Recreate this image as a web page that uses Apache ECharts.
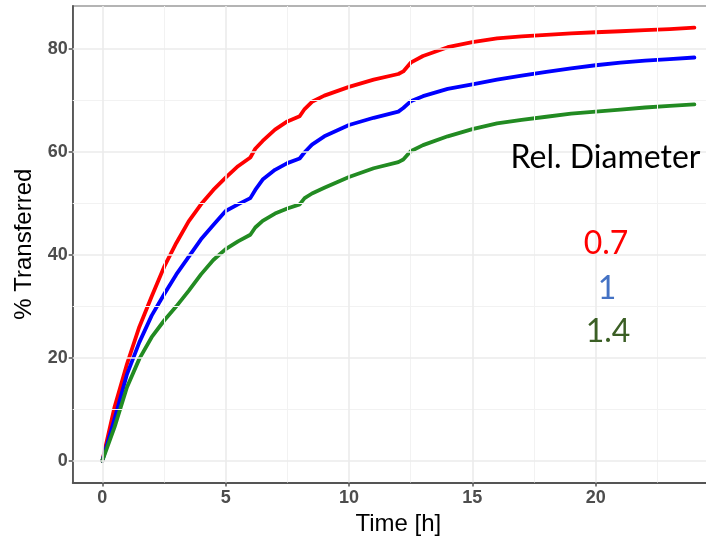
<!DOCTYPE html>
<html>
<head>
<meta charset="utf-8">
<script src="https://cdn.jsdelivr.net/npm/echarts@6/dist/echarts.min.js"></script>
<style>
  html, body { margin: 0; padding: 0; background: #ffffff; }
  #chart { width: 706px; height: 538px; }
</style>
</head>
<body>
<div id="chart"></div>
<script>
// Release time points [h]
const hours = [0, 0.5, 1, 1.5, 2, 2.5, 3, 3.5, 4, 4.5, 5, 5.5, 6, 6.2, 6.5, 7, 7.5, 8, 8.2, 8.5, 9, 10, 11, 12, 12.2, 12.5, 13, 14, 15, 16, 17, 18, 19, 20, 21, 22, 23, 24];

// % transferred for each relative diameter
const diam07 = [0, 10.5, 18.8, 26.0, 31.9, 37.6, 42.3, 46.5, 49.8, 52.6, 55.0, 57.2, 58.9, 60.6, 62.1, 64.3, 65.9, 66.9, 68.3, 69.7, 70.9, 72.6, 74.0, 75.1, 75.6, 77.3, 78.6, 80.3, 81.3, 82.0, 82.4, 82.7, 83.0, 83.2, 83.4, 83.6, 83.8, 84.1];
const diam10 = [0, 8.2, 16.8, 23.0, 28.2, 32.3, 36.2, 39.6, 43.0, 45.8, 48.5, 49.8, 51.0, 52.6, 54.6, 56.5, 57.8, 58.7, 59.9, 61.4, 63.0, 65.2, 66.6, 67.8, 68.5, 69.8, 70.8, 72.2, 73.1, 74.0, 74.8, 75.5, 76.2, 76.8, 77.3, 77.7, 78.0, 78.3];
const diam14 = [0, 6.6, 14.3, 19.8, 24.0, 27.2, 30.0, 33.0, 36.2, 39.0, 41.1, 42.6, 43.9, 45.3, 46.6, 48.0, 49.0, 49.8, 51.0, 51.9, 53.0, 55.1, 56.8, 58.0, 58.5, 60.1, 61.3, 63.0, 64.4, 65.5, 66.2, 66.8, 67.4, 67.8, 68.2, 68.6, 68.9, 69.2];

const seriesNames = ['0.7', '1', '1.4'];
const lineColors = ['#ff0000', '#0000ff', '#228b22'];
const legendColors = ['#ff0000', '#4472c4', '#3b5f25'];

// Axis ticks and grid positions
const xTicks = [0, 5, 10, 15, 20];
const xMinor = [2.5, 7.5, 12.5, 17.5, 22.5];
const yTicks = [0, 20, 40, 60, 80];
const yMinor = [10, 30, 50, 70];

const pairs = (vals) => hours.map((h, i) => [h, vals[i]]);

const majorStyle = { color: '#ebebeb', width: 1.6, type: 'solid' };
const minorStyle = { color: '#f2f2f2', width: 1, type: 'solid' };

const gridLines = []
  .concat(yMinor.map(v => ({ yAxis: v, lineStyle: minorStyle })))
  .concat(xMinor.map(v => ({ xAxis: v, lineStyle: minorStyle })))
  .concat(yTicks.map(v => ({ yAxis: v, lineStyle: majorStyle })))
  .concat(xTicks.map(v => ({ xAxis: v, lineStyle: majorStyle })));

const chart = echarts.init(document.getElementById('chart'), null, { renderer: 'canvas' });

const tickLabel = { fontFamily: 'Liberation Sans, Arial, sans-serif', fontWeight: 'bold', fontSize: 18, color: '#4d4d4d' };
const titleText = { fontFamily: 'Liberation Sans, Arial, sans-serif', fontSize: 24, color: '#000000' };
const legendFont = 'Lato, "Open Sans", sans-serif';

chart.setOption({
  animation: false,
  backgroundColor: '#ffffff',
  grid: {
    left: 72.7, top: 6, width: 651.3, height: 476.5,
    outerBoundsMode: 'none', containLabel: false,
    show: true, borderColor: '#6a6a6a', borderWidth: 1.2, backgroundColor: 'transparent'
  },
  xAxis: {
    type: 'value', min: -1.2, max: 25.2,
    name: 'Time [h]', nameLocation: 'middle', nameGap: 30, nameTextStyle: titleText,
    axisLine: { show: true, onZero: false, lineStyle: { color: '#555555', width: 1.8 } },
    axisTick: { show: true, length: 4, customValues: xTicks, lineStyle: { color: '#555555', width: 1.5 } },
    axisLabel: Object.assign({ customValues: xTicks, margin: 7 }, tickLabel),
    splitLine: { show: false }
  },
  yAxis: {
    type: 'value', min: -4.2, max: 88.3,
    name: '% Transferred', nameLocation: 'middle', nameGap: 31, nameRotate: 90, nameTextStyle: titleText,
    axisLine: { show: true, onZero: false, lineStyle: { color: '#555555', width: 1.8 } },
    axisTick: { show: true, length: 4, customValues: yTicks, lineStyle: { color: '#555555', width: 1.5 } },
    axisLabel: Object.assign({ customValues: yTicks, margin: 5 }, tickLabel),
    splitLine: { show: false }
  },
  series: [
    {
      type: 'line', name: 'grid', data: [], silent: true, z: 1,
      markLine: { silent: true, symbol: ['none', 'none'], label: { show: false }, animation: false, data: gridLines }
    }
  ].concat([diam07, diam10, diam14].map((vals, i) => ({
    type: 'line', name: seriesNames[i], data: pairs(vals), z: 3,
    showSymbol: false, symbol: 'none', smooth: false,
    lineStyle: { color: lineColors[i], width: 3.8, cap: 'round', join: 'round' }
  }))),
  graphic: [
    { type: 'text', z: 100, x: 605.5, y: 158, style: { text: 'Rel. Diameter', font: '32px ' + legendFont, fill: '#000000', align: 'center', verticalAlign: 'middle' } },
    { type: 'text', z: 100, x: 606, y: 244, style: { text: seriesNames[0], font: '32px ' + legendFont, fill: legendColors[0], align: 'center', verticalAlign: 'middle' } },
    { type: 'text', z: 100, x: 607, y: 289, style: { text: seriesNames[1], font: '32px ' + legendFont, fill: legendColors[1], align: 'center', verticalAlign: 'middle' } },
    { type: 'text', z: 100, x: 608, y: 332, style: { text: seriesNames[2], font: '32px ' + legendFont, fill: legendColors[2], align: 'center', verticalAlign: 'middle' } }
  ]
});
</script>
</body>
</html>
